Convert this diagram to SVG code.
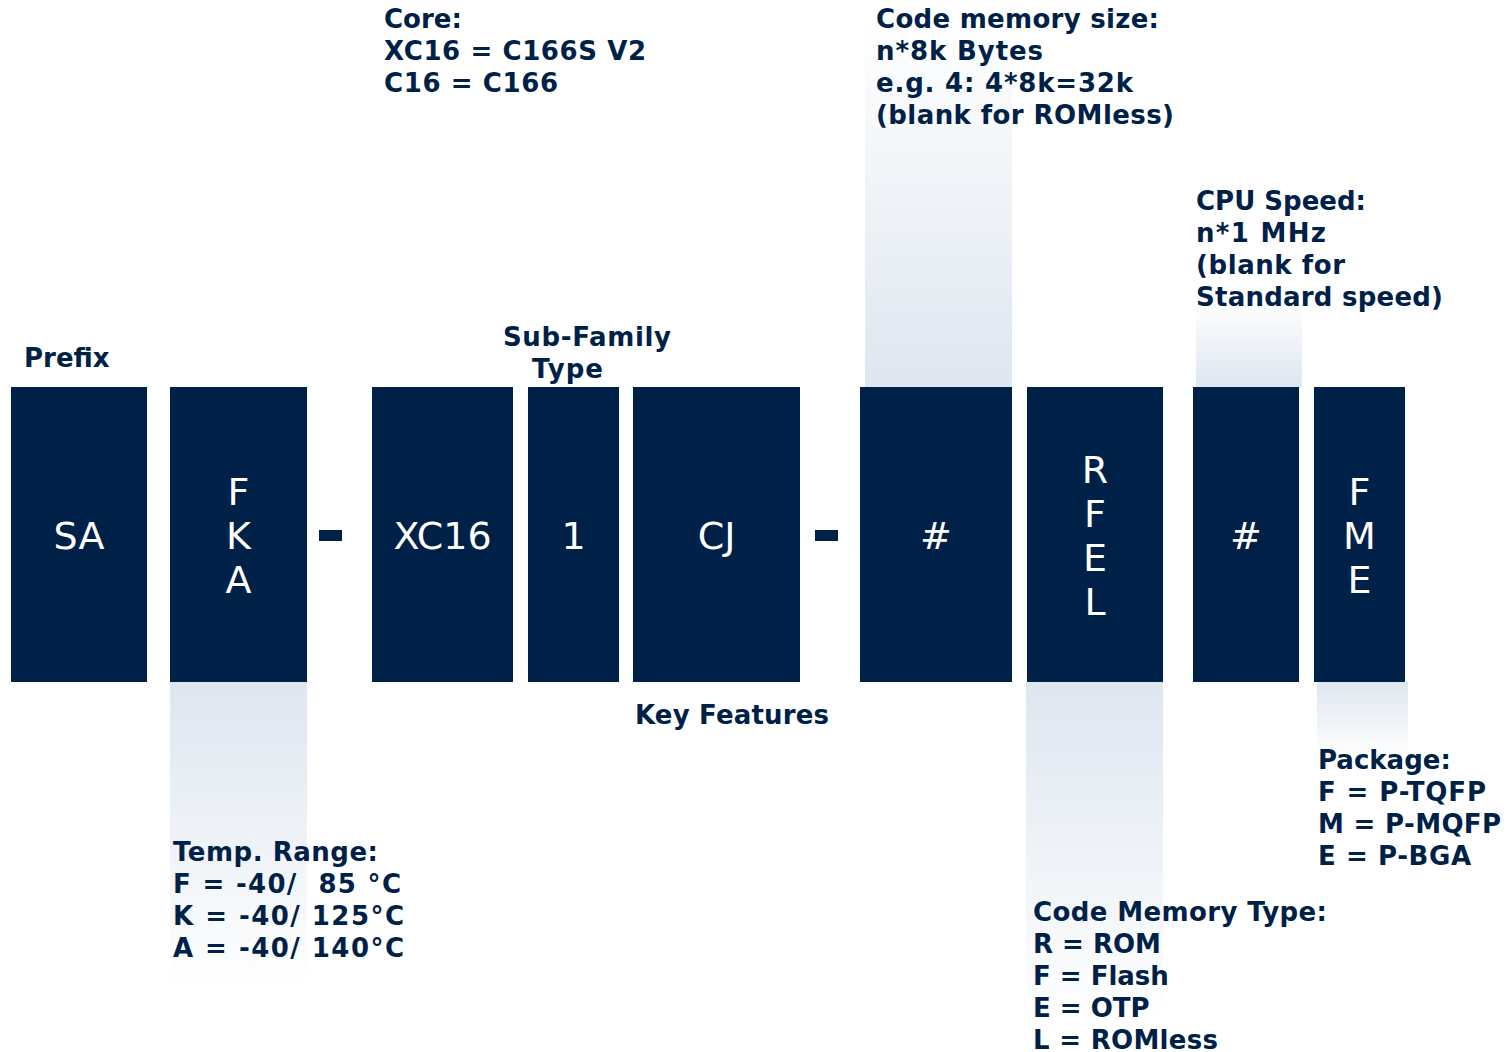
<svg xmlns="http://www.w3.org/2000/svg" width="1510" height="1052" viewBox="0 0 1510 1052">
<defs>
<linearGradient id="gDown" x1="0" y1="0" x2="0" y2="1">
<stop offset="0" stop-color="#dee6ef"/>
<stop offset="1" stop-color="#ffffff"/>
</linearGradient>
<linearGradient id="gUp" x1="0" y1="1" x2="0" y2="0">
<stop offset="0" stop-color="#dee6ef"/>
<stop offset="1" stop-color="#ffffff"/>
</linearGradient>
<style>
.box{fill:#002147}
.bt{font-family:"DejaVu Sans",Verdana,sans-serif;font-size:38px;fill:#ffffff;text-anchor:middle}
.lb{font-family:"DejaVu Sans",Verdana,sans-serif;font-weight:bold;font-size:26px;fill:#002147;white-space:pre}
.dash{fill:#002147}
</style>
</defs>
<g id="strips">
<rect x="170" y="682" width="137" height="310" fill="url(#gDown)"/>
<rect x="865" y="20" width="147" height="367" fill="url(#gUp)"/>
<rect x="1196" y="300" width="106" height="87" fill="url(#gUp)"/>
<rect x="1026" y="682" width="137" height="340" fill="url(#gDown)"/>
<rect x="1317" y="682" width="91" height="75" fill="url(#gDown)"/>
</g>
<g id="node-sa"><rect class="box" x="11" y="387" width="136" height="295"/><text class="bt" x="79" y="549">SA</text></g>
<g id="node-fka"><rect class="box" x="170" y="387" width="137" height="295"/><text class="bt" x="238.5" y="505">F</text><text class="bt" x="238.5" y="549">K</text><text class="bt" x="238.5" y="593">A</text></g>
<g id="node-xc16"><rect class="box" x="372" y="387" width="141" height="295"/><text class="bt" x="442.5" y="549">XC16</text></g>
<g id="node-1"><rect class="box" x="528" y="387" width="91" height="295"/><text class="bt" x="573.5" y="549">1</text></g>
<g id="node-cj"><rect class="box" x="633" y="387" width="167" height="295"/><text class="bt" x="716.5" y="549">CJ</text></g>
<g id="node-mem"><rect class="box" x="860" y="387" width="152" height="295"/><text class="bt" x="936" y="549">#</text></g>
<g id="node-rfel"><rect class="box" x="1027" y="387" width="136" height="295"/><text class="bt" x="1095" y="483">R</text><text class="bt" x="1095" y="527">F</text><text class="bt" x="1095" y="571">E</text><text class="bt" x="1095" y="615">L</text></g>
<g id="node-speed"><rect class="box" x="1193" y="387" width="106" height="295"/><text class="bt" x="1246" y="549">#</text></g>
<g id="node-fme"><rect class="box" x="1314" y="387" width="91" height="295"/><text class="bt" x="1359.5" y="505">F</text><text class="bt" x="1359.5" y="549">M</text><text class="bt" x="1359.5" y="593">E</text></g>
<g id="connectors">
<rect class="dash" x="319" y="530" width="23" height="11"/>
<rect class="dash" x="815" y="530" width="23" height="11"/>
</g>
<g id="labels">
<text class="lb" x="384" y="28">Core:</text>
<text class="lb" x="384" y="60" textLength="262" lengthAdjust="spacing">XC16 = C166S V2</text>
<text class="lb" x="384" y="92" textLength="174" lengthAdjust="spacing">C16 = C166</text>
<text class="lb" x="876" y="28" textLength="283" lengthAdjust="spacing">Code memory size:</text>
<text class="lb" x="876" y="60" textLength="167" lengthAdjust="spacing">n*8k Bytes</text>
<text class="lb" x="876" y="92" textLength="257" lengthAdjust="spacing">e.g. 4: 4*8k=32k</text>
<text class="lb" x="876" y="124" textLength="298" lengthAdjust="spacing">(blank for ROMless)</text>
<text class="lb" x="1196" y="210">CPU Speed:</text>
<text class="lb" x="1196" y="242" textLength="130" lengthAdjust="spacing">n*1 MHz</text>
<text class="lb" x="1196" y="274" textLength="149" lengthAdjust="spacing">(blank for</text>
<text class="lb" x="1196" y="306" textLength="247" lengthAdjust="spacing">Standard speed)</text>
<text class="lb" x="24" y="367">Prefix</text>
<text class="lb" x="503" y="346" textLength="168" lengthAdjust="spacing">Sub-Family</text>
<text class="lb" x="532" y="378" textLength="71" lengthAdjust="spacing">Type</text>
<text class="lb" x="635" y="724" textLength="194" lengthAdjust="spacing">Key Features</text>
<text class="lb" x="173" y="861" textLength="205" lengthAdjust="spacing">Temp. Range:</text>
<text class="lb" x="173" y="893" textLength="228" lengthAdjust="spacing">F = -40/  85 °C</text>
<text class="lb" x="173" y="925" textLength="231" lengthAdjust="spacing">K = -40/ 125°C</text>
<text class="lb" x="173" y="957" textLength="231" lengthAdjust="spacing">A = -40/ 140°C</text>
<text class="lb" x="1318" y="769">Package:</text>
<text class="lb" x="1318" y="801" textLength="168" lengthAdjust="spacing">F = P-TQFP</text>
<text class="lb" x="1318" y="833" textLength="183" lengthAdjust="spacing">M = P-MQFP</text>
<text class="lb" x="1318" y="865" textLength="153" lengthAdjust="spacing">E = P-BGA</text>
<text class="lb" x="1033" y="921" textLength="294" lengthAdjust="spacing">Code Memory Type:</text>
<text class="lb" x="1033" y="953">R = ROM</text>
<text class="lb" x="1033" y="985">F = Flash</text>
<text class="lb" x="1033" y="1017">E = OTP</text>
<text class="lb" x="1033" y="1049" textLength="185" lengthAdjust="spacing">L = ROMless</text>
</g>
</svg>
